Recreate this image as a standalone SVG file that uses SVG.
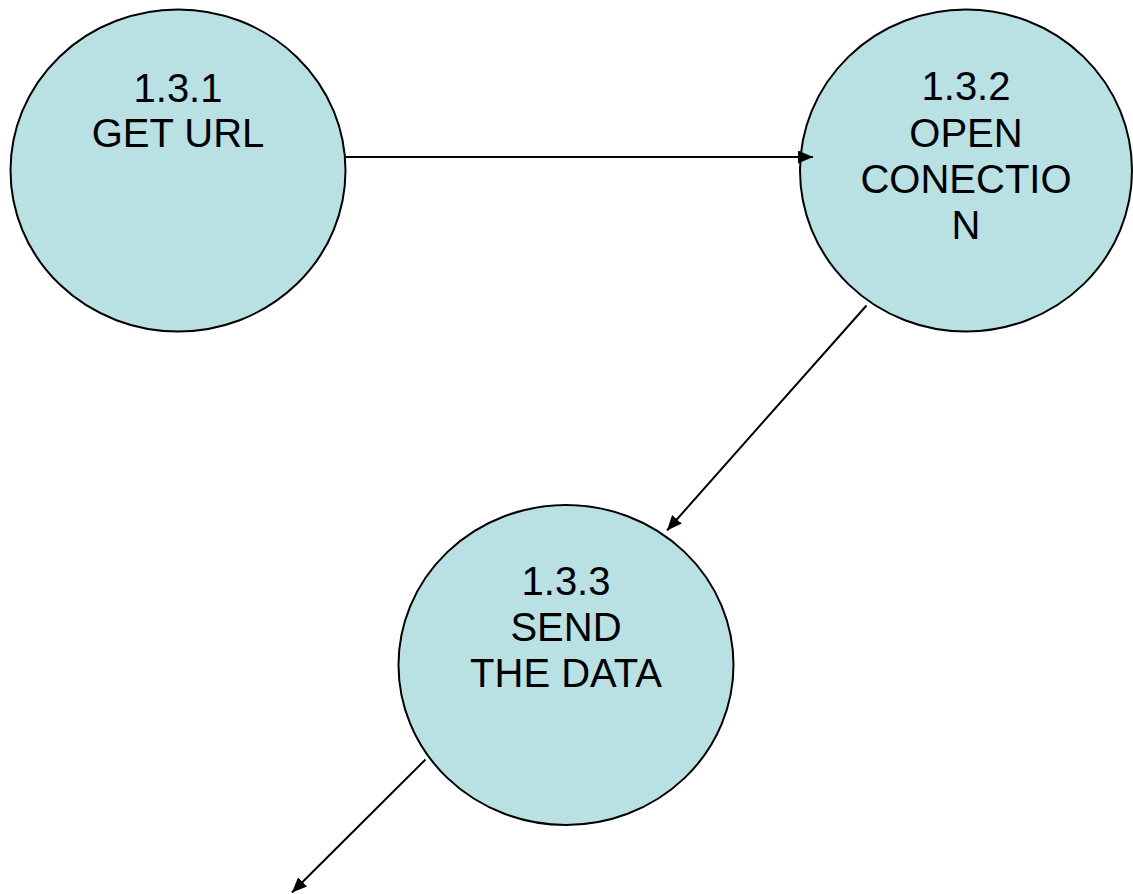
<svg xmlns="http://www.w3.org/2000/svg" width="1133" height="894" viewBox="0 0 1133 894">
  <style>
    .bubble { fill: #b9e0e3; stroke: #000; stroke-width: 2; }
    .label { font-family: "Liberation Sans", Arial, sans-serif; font-size: 40px; fill: #000; text-anchor: middle; }
    .flow { stroke: #000; stroke-width: 2; fill: none; marker-end: url(#arrow); }
  </style>
  <defs>
    <marker id="arrow" viewBox="0 0 15 13" refX="15" refY="6.5" markerWidth="15" markerHeight="13" markerUnits="userSpaceOnUse" orient="auto">
      <path d="M0,0 L15,6.5 L0,13 Z" fill="#000"/>
    </marker>
  </defs>

  <g id="node-131">
    <ellipse class="bubble" cx="178" cy="170.5" rx="167.5" ry="161"/>
    <text class="label" x="178" y="101.5">1.3.1</text>
    <text class="label" x="178" y="146.5">GET URL</text>
  </g>

  <g id="node-132">
    <ellipse class="bubble" cx="966" cy="170.5" rx="166" ry="161"/>
    <text class="label" x="966" y="100">1.3.2</text>
    <text class="label" x="966" y="146.5">OPEN</text>
    <text class="label" x="966" y="192.5">CONECTIO</text>
    <text class="label" x="966" y="238.5">N</text>
  </g>

  <g id="node-133">
    <ellipse class="bubble" cx="566" cy="665" rx="167.5" ry="160"/>
    <text class="label" x="566" y="595">1.3.3</text>
    <text class="label" x="566" y="641">SEND</text>
    <text class="label" x="566" y="687">THE DATA</text>
  </g>

  <g id="connectors">
    <line class="flow" x1="346" y1="157" x2="813" y2="157"/>
    <line class="flow" x1="866.5" y1="305.5" x2="667" y2="530.5"/>
    <line class="flow" x1="425.5" y1="759.5" x2="292" y2="892.5"/>
  </g>
</svg>
